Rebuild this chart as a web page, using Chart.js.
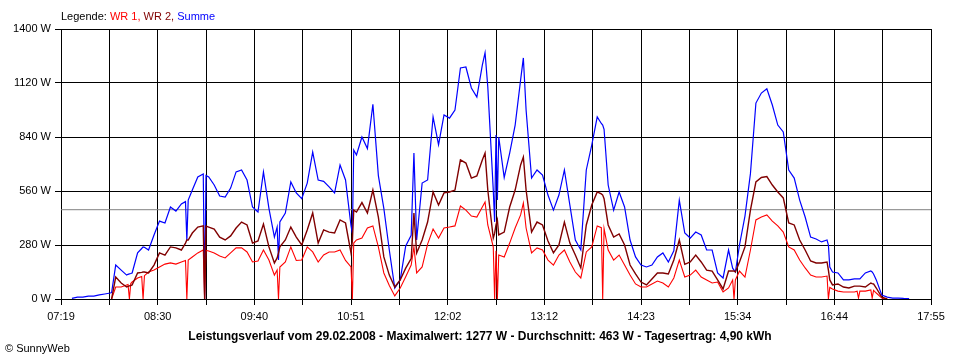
<!DOCTYPE html>
<html lang="de">
<head>
<meta charset="UTF-8">
<title>Leistungsverlauf vom 29.02.2008</title>
<script src="https://cdn.jsdelivr.net/npm/chart.js"></script>
<style>
  body { margin: 0; background: #fff; font-family: "Liberation Sans", Arial, sans-serif; }
  #wrap { position: relative; width: 960px; height: 360px; }
  #legend { position: absolute; left: 61px; top: 10px; font-size: 11px; line-height: 13px; color: #000; }
  #footer { position: absolute; left: 0; top: 330px; width: 960px; text-align: center;
            font-size: 12px; line-height: 13px; font-weight: bold; color: #000; }
  #copy { position: absolute; left: 5px; top: 342px; font-size: 11px; line-height: 13px; color: #000; }
</style>
</head>
<body>
<div id="wrap">
  <canvas id="chart" width="960" height="360"></canvas>
  <div id="legend">Legende: <span style="color:#ff0000">WR 1,</span> <span style="color:#800000">WR 2,</span> <span style="color:#0000ff">Summe</span></div>
  <div id="footer">Leistungsverlauf vom 29.02.2008 - Maximalwert: 1277 W - Durchschnitt: 463 W - Tagesertrag: 4,90 kWh</div>
  <div id="copy">&copy; SunnyWeb</div>
</div>
<script>
// time of each reading (clock time)
const times = [
  '07:27','07:31','07:35','07:39','07:43','07:47','07:51','07:55','07:56','07:59',
  '08:03','08:07','08:08','08:09','08:10','08:11','08:15','08:18','08:19','08:20',
  '08:23','08:27','08:31','08:35','08:39','08:43','08:47','08:50','08:51','08:52',
  '08:55','08:59','09:03','09:04','09:05','09:07','09:11','09:15','09:19','09:23',
  '09:27','09:31','09:35','09:39','09:43','09:47','09:51','09:55','09:57','09:58',
  '09:59','10:03','10:07','10:11','10:15','10:19','10:23','10:27','10:31','10:35',
  '10:39','10:43','10:47','10:51','10:52','10:53','10:55','10:59','11:03','11:07',
  '11:11','11:15','11:19','11:23','11:27','11:31','11:35','11:37','11:39','11:43',
  '11:47','11:51','11:55','11:59','12:03','12:07','12:11','12:15','12:19','12:23',
  '12:27','12:29','12:31','12:35','12:36','12:37','12:38','12:39','12:43','12:47',
  '12:51','12:55','12:57','12:59','13:03','13:07','13:11','13:15','13:19','13:23',
  '13:27','13:31','13:35','13:39','13:43','13:47','13:51','13:54','13:55','13:56',
  '13:59','14:03','14:07','14:11','14:15','14:19','14:23','14:27','14:31','14:35',
  '14:39','14:43','14:47','14:51','14:55','14:59','15:03','15:07','15:11','15:15',
  '15:19','15:23','15:27','15:30','15:31','15:32','15:35','15:39','15:43','15:47',
  '15:51','15:55','15:59','16:03','16:07','16:11','16:15','16:19','16:23','16:27',
  '16:31','16:35','16:39','16:40','16:41','16:43','16:47','16:51','16:55','16:59',
  '17:01','17:02','17:03','17:07','17:11','17:12','17:13','17:15','17:19','17:23',
  '17:27','17:31','17:35','17:39'
];

// WR 1 (W)
const wr1 = [
  null,null,null,null,null,null,null,null,0,62,
  62,73,75,0,80,88,109,117,0,121,
  140,150,166,181,187,181,192,200,0,202,
  218,239,254,0,252,249,239,223,213,239,
  265,265,244,192,197,254,202,124,150,0,
  166,192,270,200,202,270,244,192,228,244,
  244,254,200,166,0,290,306,316,368,379,
  270,135,70,16,57,115,176,270,135,166,
  285,363,316,368,373,379,482,461,430,425,
  477,503,384,270,0,250,0,228,218,290,
  368,436,498,368,239,265,254,202,176,228,
  254,192,140,109,244,270,379,370,0,365,
  254,202,228,176,124,78,62,62,78,93,
  83,62,109,202,114,124,150,114,99,83,
  88,36,57,99,0,99,145,114,254,410,
  425,436,404,379,347,270,254,202,161,124,
  114,114,119,0,60,52,41,36,36,36,
  40,5,41,41,47,5,45,31,5,0,
  null,null,null,null
];

// WR 2 (W)
const wr2 = [
  null,null,null,null,null,null,null,null,0,114,
  83,62,65,68,70,73,135,138,140,140,
  135,176,239,228,270,265,254,290,306,306,
  342,373,379,0,378,373,363,321,306,327,
  368,399,384,290,301,389,270,187,213,239,
  270,306,373,321,280,358,446,290,358,347,
  342,410,394,239,300,461,451,500,446,565,
  425,218,124,62,99,160,210,446,239,306,
  399,555,487,550,555,565,721,705,627,638,
  721,757,565,316,340,384,410,332,347,477,
  565,695,736,565,347,399,384,301,239,280,
  399,290,228,161,384,487,555,545,539,520,
  384,321,337,280,176,130,88,73,104,135,
  135,130,202,306,180,192,228,192,150,145,
  99,52,145,145,145,140,192,270,461,607,
  630,635,591,555,524,394,384,306,254,197,
  187,187,192,150,99,73,78,62,57,67,
  67,67,67,62,83,80,78,57,10,0,
  null,null,null,null
];

// Summe (W)
const summe = [
  3,10,10,15,15,21,26,31,33,176,
  150,124,128,130,132,135,239,262,270,268,
  254,332,404,394,477,456,493,505,306,513,
  565,633,648,0,640,633,591,534,529,575,
  659,669,617,477,451,659,470,321,373,202,
  400,446,607,550,520,601,762,617,610,581,
  550,695,617,380,340,773,747,840,780,1010,
  640,470,254,57,100,275,330,757,306,601,
  617,944,800,954,938,980,1198,1203,1094,1047,
  1213,1277,1100,565,400,850,513,840,630,757,
  902,1136,1250,980,627,669,643,539,461,539,
  669,487,306,254,669,798,944,910,902,880,
  591,461,555,477,306,218,176,166,176,218,
  239,192,250,513,342,316,347,332,254,254,
  135,109,254,160,150,140,280,430,650,1016,
  1068,1090,1006,902,866,669,627,513,425,321,
  311,296,306,280,166,140,135,99,99,104,
  104,104,104,135,145,140,130,99,21,10,
  5,5,3,2
];

const average = 463;
const xTickLabels = ['07:19','08:30','09:40','10:51','12:02','13:12','14:23','15:34','16:44','17:55'];
const yTickValues = [0, 280, 560, 840, 1120, 1400];

const toMinutes = t => { const [h, m] = t.split(':').map(Number); return h * 60 + m; };
const series = values => times.map((t, i) => ({ x: toMinutes(t), y: values[i] }));

const xStart = toMinutes(xTickLabels[0]);
const xEnd = toMinutes(xTickLabels[xTickLabels.length - 1]);
// grid every half label step
const gridSteps = (xTickLabels.length - 1) * 2;
const xGrid = Array.from({ length: gridSteps + 1 }, (_, i) => xStart + i * (xEnd - xStart) / gridSteps);

Chart.defaults.font.family = '"Liberation Sans", Arial, sans-serif';
Chart.defaults.font.size = 11;
Chart.defaults.color = '#000';

const lineStyle = { pointRadius: 0, tension: 0, spanGaps: false, fill: false };

new Chart(document.getElementById('chart'), {
  type: 'line',
  data: {
    datasets: [
      { label: 'WR 2', data: series(wr2), borderColor: '#800000', borderWidth: 1.4, ...lineStyle },
      { label: 'WR 1', data: series(wr1), borderColor: '#ff0000', borderWidth: 1.1, ...lineStyle },
      { label: 'Summe', data: series(summe), borderColor: '#0000ff', borderWidth: 1.2, ...lineStyle },
      { label: 'Durchschnitt', data: [{ x: xStart, y: average }, { x: xEnd, y: average }],
        borderColor: '#808080', borderWidth: 1, ...lineStyle }
    ]
  },
  options: {
    responsive: false,
    animation: false,
    layout: { padding: { top: 29, right: 29, left: 0, bottom: 0 } },
    plugins: { legend: { display: false }, tooltip: { enabled: false } },
    scales: {
      x: {
        type: 'linear',
        min: xStart,
        max: xEnd,
        afterBuildTicks: s => { s.ticks = xGrid.map(v => ({ value: v })); },
        afterFit: s => { s.height = 61; },
        ticks: {
          autoSkip: false,
          maxRotation: 0,
          padding: 5,
          color: '#000',
          callback: (v, i) => (i % 2 === 0 ? xTickLabels[i / 2] : '')
        },
        grid: { color: '#000', lineWidth: 1, tickLength: 6 },
        border: { color: '#000' }
      },
      y: {
        min: 0,
        max: 1400,
        afterBuildTicks: s => { s.ticks = yTickValues.map(v => ({ value: v })); },
        afterFit: s => { s.width = 61; },
        ticks: { padding: 4, color: '#000', callback: v => v + ' W' },
        grid: { color: '#000', lineWidth: 1, tickLength: 6 },
        border: { color: '#000' }
      }
    }
  }
});
</script>
</body>
</html>
